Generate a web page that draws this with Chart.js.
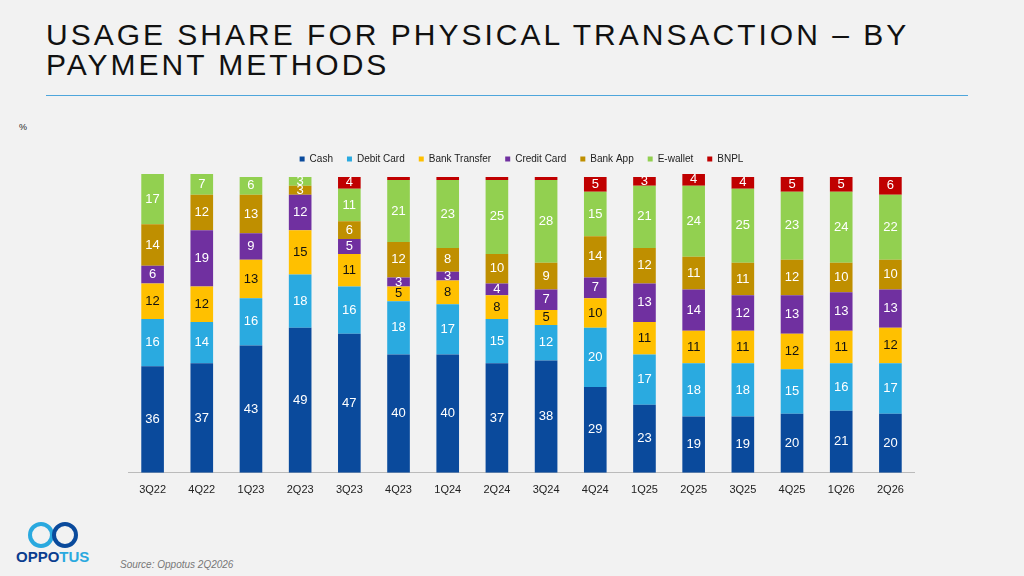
<!DOCTYPE html>
<html>
<head>
<meta charset="utf-8">
<script src="https://cdn.jsdelivr.net/npm/chart.js@4"></script>
<style>
    body { margin: 0; width: 1024px; height: 576px; background: #f2f2f2; font-family: Arial, "Liberation Sans", sans-serif; position: relative; overflow: hidden; }
    h1 { position: absolute; left: 46px; top: 20px; margin: 0; font-weight: normal; font-size: 30px; line-height: 30px; letter-spacing: 3px; color: #111; }
    .rule { position: absolute; left: 46px; top: 95px; width: 922px; height: 1px; background: #4ea6dc; }
    .unit { position: absolute; left: 19px; top: 122px; font-size: 9px; color: #222; }
    .source { position: absolute; left: 120px; top: 559px; font-size: 10px; font-style: italic; color: #777; }
    .logo { position: absolute; left: 16px; top: 520px; }
    .logo .mark { position: relative; width: 60px; height: 28px; }
    .logo .ring { position: absolute; top: 2px; width: 18px; height: 18px; border-radius: 50%; border: 4px solid #2aa9df; }
    .logo .word { font-weight: bold; font-size: 15px; color: #0a3d8f; }
    #wrap { position: absolute; left: 128px; top: 140px; width: 787px; height: 360px; }
</style>
</head>
<body>
<h1>USAGE SHARE FOR PHYSICAL TRANSACTION – BY<br>PAYMENT METHODS</h1>
<div class="rule"></div>
<div class="unit">%</div>
<div class="logo">
    <div class="mark">
        <div class="ring" style="left:12px; border-color:#2aa9df;"></div>
        <div class="ring" style="left:36px; border-color:#0a4a9c;"></div>
    </div>
    <div class="word">OPPO<span style="color:#2aa9df">TUS</span></div>
</div>
<div class="source">Source: Oppotus 2Q2026</div>
<div id="wrap"><canvas id="chart"></canvas></div>
<script>
    // Chart data
    const quarters = ['3Q22', '4Q22', '1Q23', '2Q23', '3Q23', '4Q23', '1Q24', '2Q24', '3Q24', '4Q24', '1Q25', '2Q25', '3Q25', '4Q25', '1Q26', '2Q26'];
    const cash = [36, 37, 43, 49, 47, 40, 40, 37, 38, 29, 23, 19, 19, 20, 21, 20];
    const debitCard = [16, 14, 16, 18, 16, 18, 17, 15, 12, 20, 17, 18, 18, 15, 16, 17];
    const bankTransfer = [12, 12, 13, 15, 11, 5, 8, 8, 5, 10, 11, 11, 11, 12, 11, 12];
    const creditCard = [6, 19, 9, 12, 5, 3, 3, 4, 7, 7, 13, 14, 12, 13, 13, 13];
    const bankApp = [14, 12, 13, 3, 6, 12, 8, 10, 9, 14, 12, 11, 11, 12, 10, 10];
    const eWallet = [17, 7, 6, 3, 11, 21, 23, 25, 28, 15, 21, 24, 25, 23, 24, 22];
    const bnpl = [0, 0, 0, 0, 4, 1, 1, 1, 1, 5, 3, 4, 4, 5, 5, 6];

    const series = [
        { label: 'Cash', data: cash, color: '#0a4a9c', text: '#fff' },
        { label: 'Debit Card', data: debitCard, color: '#2aaae0', text: '#fff' },
        { label: 'Bank Transfer', data: bankTransfer, color: '#ffc000', text: '#111' },
        { label: 'Credit Card', data: creditCard, color: '#7030a0', text: '#fff' },
        { label: 'Bank App', data: bankApp, color: '#bf8f00', text: '#fff' },
        { label: 'E-wallet', data: eWallet, color: '#92d050', text: '#fff' },
        { label: 'BNPL', data: bnpl, color: '#c00000', text: '#fff' }
    ];

    // Draw value labels in the middle of each segment
    const segmentLabels = {
        id: 'segmentLabels',
        afterDatasetsDraw(chart) {
            const ctx = chart.ctx;
            ctx.save();
            ctx.font = '13px Arial, "Liberation Sans", sans-serif';
            ctx.textAlign = 'center';
            ctx.textBaseline = 'middle';
            chart.data.datasets.forEach((ds, i) => {
                chart.getDatasetMeta(i).data.forEach((bar, j) => {
                    const v = ds.data[j];
                    if (v < 2) return;
                    ctx.fillStyle = series[i].text;
                    ctx.fillText(v, bar.x, (bar.y + bar.base) / 2);
                });
            });
            ctx.restore();
        }
    };

    new Chart(document.getElementById('chart'), {
        type: 'bar',
        data: {
            labels: quarters,
            datasets: series.map(s => ({
                label: s.label,
                data: s.data,
                backgroundColor: s.color,
                barPercentage: 0.46,
                categoryPercentage: 1
            }))
        },
        options: {
            responsive: true,
            maintainAspectRatio: false,
            animation: false,
            plugins: {
                legend: {
                    position: 'top',
                    labels: { boxWidth: 5, boxHeight: 5, padding: 14, color: '#222', font: { size: 10 } }
                },
                tooltip: { enabled: false }
            },
            scales: {
                x: {
                    stacked: true,
                    grid: { display: false },
                    border: { color: '#bbb' },
                    ticks: { color: '#222', font: { size: 11 } }
                },
                y: {
                    stacked: true,
                    min: 0,
                    max: 101,
                    display: false
                }
            }
        },
        plugins: [segmentLabels]
    });
</script>
</body>
</html>
